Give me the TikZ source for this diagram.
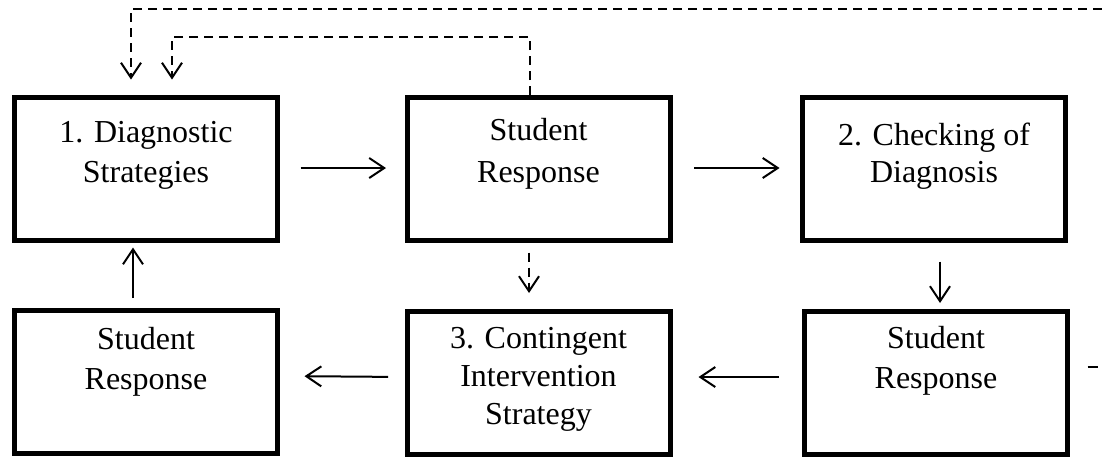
\documentclass[tikz,border=0pt]{standalone}
\usepackage{fontspec}
\setmainfont{Liberation Serif}
\usetikzlibrary{arrows.meta,calc}
\tikzset{
  box/.style={draw, line width=5pt, inner sep=0pt, minimum width=263pt, minimum height=143pt},
  lbl/.style={inner sep=0pt, align=center, font=\fontsize{32}{40}\selectfont, anchor=north},
  conn/.style={line width=2pt, -{Straight Barb[length=15pt,width=20pt]}},
  dconn/.style={conn, dash pattern=on 9pt off 6pt},
  dline/.style={line width=2pt, dash pattern=on 10pt off 5pt},
}
\begin{document}
\begin{tikzpicture}[x=1pt,y=-1pt]
\useasboundingbox (0,0) rectangle (1102,459);
% boxes
\node[box] (b1) at (146,169) {};
\node[box] (b2) at (538.5,169) {};
\node[box] (b3) at (934,169) {};
\node[box] (b4) at (146,381.5) {};
\node[box] (b5) at (538.5,382.5) {};
\node[box] (b6) at (936,382.5) {};
% labels
\node[lbl] (t1) at (b1.north) {\rule{0pt}{47.5pt}1. Diagnostic\\Strategies};
\node[lbl, font=\fontsize{32}{42}\selectfont] (t2) at (b2.north) {\rule{0pt}{45.5pt}Student\\Response};
\node[lbl, font=\fontsize{32}{37}\selectfont] (t3) at (b3.north) {\rule{0pt}{50.5pt}2. Checking of\\Diagnosis};
\node[lbl] (t4) at (b4.north) {\rule{0pt}{41.5pt}Student\\Response};
\node[lbl, font=\fontsize{32}{38}\selectfont] (t5) at (b5.north) {\rule{0pt}{40pt}3. Contingent\\Intervention\\Strategy};
\node[lbl] (t6) at (b6.north) {\rule{0pt}{40pt}Student\\Response};
% helper coordinates
\coordinate (x133) at (133,0);
\coordinate (x940) at (940,0);
\coordinate (x529) at (529,0);
\coordinate (i1) at (530,37);
\coordinate (i2) at (172,37);
\coordinate (o1) at (1102,9);
\coordinate (o2) at (131,9);
\coordinate (r1) at (1102,367);
% solid arrows
\draw[conn, shorten <=20.5pt, shorten >=18.5pt] ([yshift=1pt]b1.east) -- ([yshift=1pt]b2.west);
\draw[conn, shorten <=21.5pt, shorten >=20.5pt] ([yshift=1pt]b2.east) -- ([yshift=1pt]b3.west);
\draw[conn, shorten <=23pt, shorten >=26pt] ([yshift=5.5pt]b6.west) -- ([yshift=5.5pt]b5.east);
\draw[conn, shorten <=16.5pt, shorten >=24.5pt] ([yshift=5.5pt]b5.west) -- ([yshift=5.5pt]b4.east);
\draw[conn, shorten <=9.5pt, shorten >=4.5pt] (b4.north -| x133) -- (b1.south -| x133);
\draw[conn, shorten <=18.5pt, shorten >=5.5pt] (b3.south -| x940) -- (b6.north -| x940);
% dashed arrows
\draw[dconn, shorten <=9.5pt, shorten >=15.5pt] (b2.south -| x529) -- (b5.north -| x529);
\draw[dconn, shorten >=15.5pt] (b2.north -| i1) -- (i1) -- (i2) -- (b1.north -| i2);
\draw[dconn, shorten >=15.5pt] (o1) -- (o2) -- (b1.north -| o2);
\draw[dline, shorten <=17.5pt] (b6.east |- r1) -- (r1);
\end{tikzpicture}
\end{document}
